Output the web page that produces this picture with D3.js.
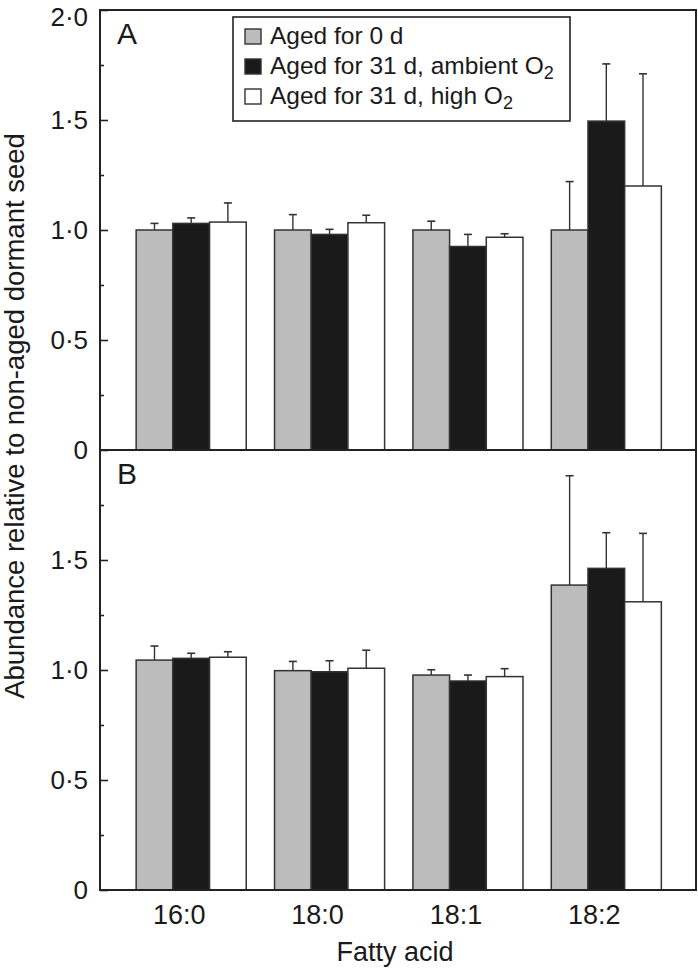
<!DOCTYPE html>
<html>
<head>
<meta charset="utf-8">
<script src="https://cdn.jsdelivr.net/npm/d3@7"></script>
<style>
  html, body { margin: 0; padding: 0; background: #fff; }
  svg { display: block; }
  text { font-family: "Liberation Sans", Arial, Helvetica, sans-serif; fill: #1a1a1a; }
</style>
</head>
<body>
<svg id="chart" width="698" height="974"></svg>
<script>
// ---------------- data ----------------
const categories = ["16:0", "18:0", "18:1", "18:2"];
const seriesNames = ["Aged for 0 d", "Aged for 31 d, ambient O", "Aged for 31 d, high O"];
const seriesSubs = ["", "2", "2"];
const seriesFills = ["#bcbcbc", "#1a1a1a", "#ffffff"];

// Panel A
const aAged0 = [1.00, 1.00, 1.00, 1.00];
const aAmbient = [1.03, 0.98, 0.925, 1.495];
const aHigh = [1.036, 1.033, 0.967, 1.20];
const aAged0Err = [0.03, 0.07, 0.04, 0.22];
const aAmbientErr = [0.025, 0.023, 0.055, 0.26];
const aHighErr = [0.087, 0.034, 0.016, 0.51];

// Panel B
const bAged0 = [1.045, 0.997, 0.977, 1.386];
const bAmbient = [1.053, 0.992, 0.95, 1.462];
const bHigh = [1.058, 1.008, 0.97, 1.31];
const bAged0Err = [0.064, 0.042, 0.024, 0.497];
const bAmbientErr = [0.023, 0.05, 0.027, 0.162];
const bHighErr = [0.025, 0.082, 0.036, 0.311];

const yTicksA = [0, 0.5, 1.0, 1.5, 2.0];
const yTickLabelsA = ["0", "0·5", "1·0", "1·5", "2·0"];
const yTicksB = [0, 0.5, 1.0, 1.5];
const yTickLabelsB = ["0", "0·5", "1·0", "1·5"];
const yMinorTicks = [0.25, 0.75, 1.25, 1.75];

const yTitle = "Abundance relative to non-aged dormant seed";
const xTitle = "Fatty acid";
const panelLabels = ["A", "B"];

// ---------------- layout ----------------
const svg = d3.select("#chart");
const plotLeft = 100, plotRight = 696;
const panels = [
  { top: 10, bottom: 450, vals: [aAged0, aAmbient, aHigh], errs: [aAged0Err, aAmbientErr, aHighErr],
    ticks: yTicksA, labels: yTickLabelsA, letter: panelLabels[0] },
  { top: 450, bottom: 890, vals: [bAged0, bAmbient, bHigh], errs: [bAged0Err, bAmbientErr, bHighErr],
    ticks: yTicksB, labels: yTickLabelsB, letter: panelLabels[1] }
];

const x = d3.scaleBand().domain(categories).range([122, 675.5]).paddingInner(0.2046).paddingOuter(0.1023);
const xs = d3.scaleBand().domain(d3.range(seriesNames.length)).range([0, x.bandwidth()]);

const axisColor = "#222";

panels.forEach((p) => {
  const y = d3.scaleLinear().domain([0, 2]).range([p.bottom, p.top]);
  const g = svg.append("g");

  // bars
  categories.forEach((cat, ci) => {
    p.vals.forEach((arr, si) => {
      const bx = x(cat) + xs(si);
      const v = arr[ci];
      const e = p.errs[si][ci];
      const cx = bx + xs.bandwidth() / 2;
      g.append("line")
        .attr("x1", cx).attr("x2", cx)
        .attr("y1", y(v)).attr("y2", y(v + e))
        .attr("stroke", "#333").attr("stroke-width", 1.4);
      g.append("line")
        .attr("x1", cx - 4).attr("x2", cx + 4)
        .attr("y1", y(v + e)).attr("y2", y(v + e))
        .attr("stroke", "#333").attr("stroke-width", 1.6);
      g.append("rect")
        .attr("x", bx).attr("y", y(v))
        .attr("width", xs.bandwidth()).attr("height", y(0) - y(v))
        .attr("fill", seriesFills[si])
        .attr("stroke", "#333").attr("stroke-width", 1.5);
    });
  });

  // y axis major
  const ax = d3.axisLeft(y).tickValues(p.ticks).tickSize(-8).tickPadding(12)
    .tickFormat((d, i) => p.labels[i]);
  const ag = g.append("g").attr("transform", `translate(${plotLeft},0)`).call(ax);
  ag.select(".domain").remove();
  ag.selectAll(".tick line").attr("stroke", axisColor).attr("stroke-width", 1.6);
  ag.selectAll(".tick text").style("font-size", "26px").attr("fill", "#1a1a1a")
    .attr("dy", d => (d === 2 ? "0.6em" : "0.32em"));

  // minor
  const mx = d3.axisLeft(y).tickValues(yMinorTicks).tickSize(-4).tickFormat("");
  const mg = g.append("g").attr("transform", `translate(${plotLeft},0)`).call(mx);
  mg.select(".domain").remove();
  mg.selectAll(".tick line").attr("stroke", axisColor).attr("stroke-width", 1.6);

  // panel letter
  g.append("text").attr("x", 117).attr("y", p.top + 34)
    .style("font-size", "30px").text(p.letter);
});

// frame
svg.append("rect").attr("x", plotLeft).attr("y", 10)
  .attr("width", plotRight - plotLeft).attr("height", 880)
  .attr("fill", "none").attr("stroke", axisColor).attr("stroke-width", 2);
svg.append("line").attr("x1", plotLeft).attr("x2", plotRight)
  .attr("y1", 450).attr("y2", 450).attr("stroke", axisColor).attr("stroke-width", 2);

// x axis labels
const xa = d3.axisBottom(x).tickSize(0).tickPadding(15);
const xg = svg.append("g").attr("transform", "translate(0,890)").call(xa);
xg.select(".domain").remove();
xg.selectAll(".tick text").style("font-size", "27px").attr("fill", "#1a1a1a").attr("dx", -12);

// titles
svg.append("text").attr("x", 395).attr("y", 961).attr("text-anchor", "middle")
  .style("font-size", "27px").text(xTitle);
svg.append("text").attr("transform", "translate(24,416) rotate(-90)").attr("text-anchor", "middle")
  .style("font-size", "27.5px").text(yTitle);

// legend
const lg = svg.append("g");
lg.append("rect").attr("x", 233).attr("y", 17).attr("width", 337).attr("height", 104)
  .attr("fill", "#fff").attr("stroke", axisColor).attr("stroke-width", 1.6);
seriesNames.forEach((name, i) => {
  const by = 44 + i * 30;
  lg.append("rect").attr("x", 245).attr("y", by - 15).attr("width", 16).attr("height", 15)
    .attr("fill", seriesFills[i]).attr("stroke", "#333").attr("stroke-width", 1.4);
  const t = lg.append("text").attr("x", 270).attr("y", by).style("font-size", "24.5px").text(name);
  if (seriesSubs[i]) {
    t.append("tspan").attr("dy", 5).style("font-size", "18px").text(seriesSubs[i]);
  }
});
</script>
</body>
</html>
